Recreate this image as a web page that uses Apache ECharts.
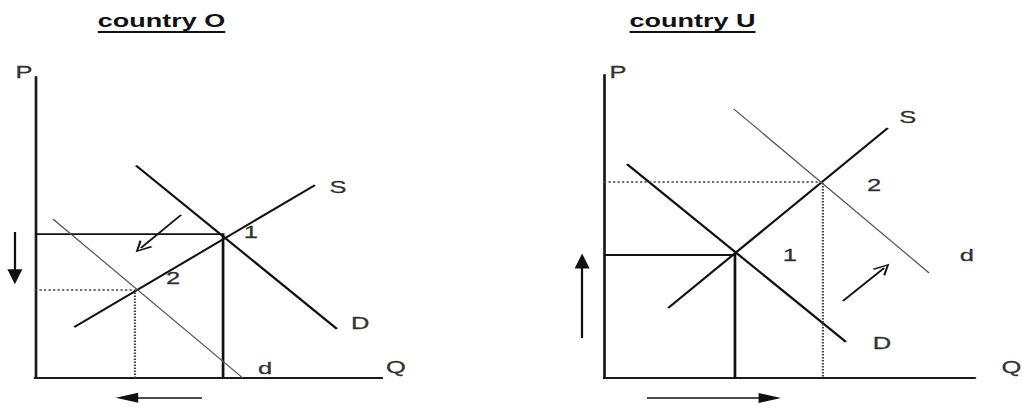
<!DOCTYPE html>
<html>
<head>
<meta charset="utf-8">
<script src="https://cdn.jsdelivr.net/npm/echarts@6/dist/echarts.min.js"></script>
<style>
html, body { margin: 0; padding: 0; background: #fff; overflow: hidden; }
/* the scanned diagram is stretched sideways, so draw at 2/3 width and stretch it */
#main { width: 682px; height: 409px; transform: scaleX(1.5); transform-origin: 0 0; }
</style>
</head>
<body>
<div id="main"></div>
<script>
// country O, both axes run 0..10
var oSupply = [[1.13, 1.69], [8.07, 6.41]];
var oDemand = [[2.91, 7.06], [8.70, 1.63]];
var oNewDemand = [[0.52, 5.28], [5.99, 0]];
var oEq1 = [5.42, 4.78];
var oEq2 = [2.88, 2.92];
var oShift = [[4.21, 5.42], [3.05, 4.32]];
var oPriceArrow = [[-0.58, 4.85], [-0.58, 3.36]];
var oQtyArrow = [[4.81, -0.66], [2.65, -0.66]];
var oLabels = [['S', 8.73, 6.35], ['D', 9.37, 1.83], ['d', 6.63, 0.33], ['1', 6.22, 4.85],
               ['2', 3.98, 3.32], ['P', -0.32, 10.17], ['Q', 10.40, 0.37]];

// country U
var uSupply = [[1.73, 2.31], [7.65, 8.25]];
var uDemand = [[0.62, 7.06], [6.52, 1.19]];
var uNewDemand = [[3.50, 8.88], [8.76, 3.47]];
var uEq1 = [3.53, 4.06];
var uEq2 = [5.90, 6.47];
var uShift = [[6.44, 2.54], [7.55, 3.63]];
var uPriceArrow = [[-0.59, 1.32], [-0.59, 3.86]];
var uQtyArrow = [[1.16, -0.66], [4.47, -0.66]];
var uLabels = [['S', 8.19, 8.61], ['D', 7.49, 1.16], ['d', 9.78, 4.06], ['1', 5.01, 4.06],
               ['2', 7.28, 6.37], ['P', 0.38, 10.10], ['Q', 10.98, 0.36]];

var titles = ['country O', 'country U'];

var FONT = '"Liberation Sans", Arial, sans-serif';
var chevron = 'path://M0,12 L6,0 L12,12 L10.2,12 L6,3.2 L1.8,12 Z';

var myChart = echarts.init(document.getElementById('main'), null, { renderer: 'svg' });

function guides(eq) {
    return [[0, eq[1]], eq, [eq[0], 0]];
}

function axis(gi) {
    return {
        type: 'value', gridIndex: gi, min: 0, max: 10,
        axisLine: { show: true, onZero: false, lineStyle: { color: '#1a1a1a', width: 1.8 } },
        axisTick: { show: false }, axisLabel: { show: false }, splitLine: { show: false }
    };
}

function lines(gi, list, style, extra) {
    var s = {
        type: 'lines', coordinateSystem: 'cartesian2d', xAxisIndex: gi, yAxisIndex: gi,
        clip: false, silent: true, animation: false,
        data: list.map(function (c) { return { coords: c }; }),
        lineStyle: style
    };
    return Object.assign(s, extra || {});
}

function panel(gi, supply, demand, newDemand, eq1, eq2, shift, priceArrow, qtyArrow, labels) {
    var black = { color: '#111', width: 1.8, opacity: 1 };
    return [
        lines(gi, [supply, demand], black),
        lines(gi, [guides(eq1)], black, { polyline: true }),
        lines(gi, [guides(eq2)], { color: '#444', width: 1.5, type: 'dotted', opacity: 1 }, { polyline: true }),
        lines(gi, [newDemand], { color: '#555', width: 1, opacity: 1 }),
        lines(gi, [shift], { color: '#111', width: 1.5, opacity: 1 },
              { symbol: ['none', chevron], symbolSize: [0, 11] }),
        lines(gi, [priceArrow, qtyArrow], { color: '#111', width: 1.5, opacity: 1 },
              { symbol: ['none', 'triangle'], symbolSize: [0, [10, 15]] }),
        {
            type: 'scatter', xAxisIndex: gi, yAxisIndex: gi, symbolSize: 0, clip: false,
            silent: true, animation: false,
            data: labels.map(function (l) { return { name: l[0], value: [l[1], l[2]] }; }),
            label: { show: true, position: 'inside', formatter: '{b}', fontSize: 17,
                     color: '#000', fontFamily: FONT, textBorderColor: '#000', textBorderWidth: 0.3 }
        }
    ];
}

// underlined titles
var ctx = document.createElement('canvas').getContext('2d');
ctx.font = 'bold 18px ' + FONT;
var titleX = [107.7, 461.7];
var graphic = [];
titles.forEach(function (t, i) {
    var w = ctx.measureText(t).width;
    graphic.push({ type: 'text', x: titleX[i], y: 21,
        style: { text: t, font: 'bold 18px ' + FONT, fill: '#111', align: 'center', verticalAlign: 'middle' } });
    graphic.push({ type: 'line', shape: { x1: titleX[i] - w / 2, y1: 32, x2: titleX[i] + w / 2, y2: 32 },
        style: { stroke: '#111', lineWidth: 2 } });
});

var option = {
    backgroundColor: '#fff',
    animation: false,
    graphic: graphic,
    grid: [
        { left: 23.33, top: 77, width: 231.33, height: 301 },
        { left: 402.67, top: 75, width: 247.33, height: 303 }
    ],
    xAxis: [axis(0), axis(1)],
    yAxis: [axis(0), axis(1)],
    series: panel(0, oSupply, oDemand, oNewDemand, oEq1, oEq2, oShift, oPriceArrow, oQtyArrow, oLabels)
        .concat(panel(1, uSupply, uDemand, uNewDemand, uEq1, uEq2, uShift, uPriceArrow, uQtyArrow, uLabels))
};

myChart.setOption(option);
</script>
</body>
</html>
